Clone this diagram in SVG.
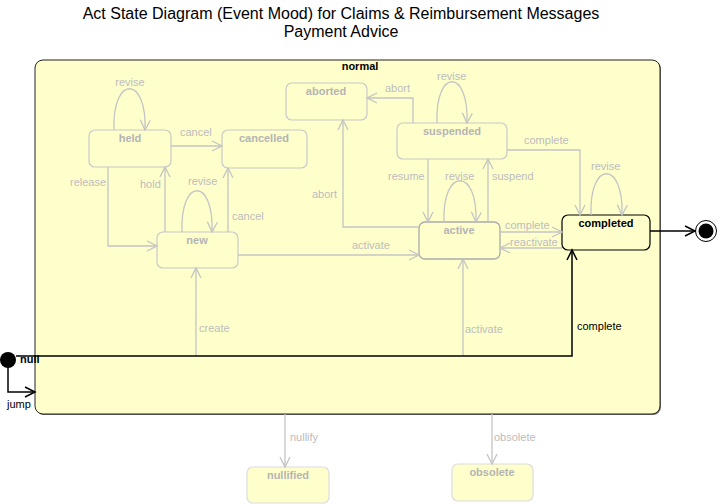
<svg xmlns="http://www.w3.org/2000/svg" width="718" height="504" viewBox="0 0 718 504">
<style>
text{font-family:"Liberation Sans",Arial,sans-serif}
.title{font-size:16px;fill:#000;text-anchor:middle}
.st{fill:#FFFFCC;stroke:#c8c8c8;stroke-width:1.2}
.stl{fill:#FFFFCC;stroke:#dcdcdc;stroke-width:1.2}
.sn{font-size:11px;font-weight:bold;fill:#b4b4b4;text-anchor:middle}
.g{fill:none;stroke:#c4c4c4;stroke-width:1.3}
.k{fill:none;stroke:#000;stroke-width:1.5}
.gl{font-size:11px;fill:#bcbcbc}
.kl{font-size:11px;fill:#000}
</style>
<defs>
<marker id="ag" markerUnits="userSpaceOnUse" markerWidth="14" markerHeight="14" refX="11" refY="6" orient="auto" viewBox="0 0 14 12">
<path d="M1,1 L11,6 L1,11" fill="none" stroke="#c4c4c4" stroke-width="1.3"/>
</marker>
<marker id="ak" markerUnits="userSpaceOnUse" markerWidth="14" markerHeight="14" refX="11" refY="6" orient="auto" viewBox="0 0 14 12">
<path d="M1,1 L11,6 L1,11" fill="none" stroke="#000" stroke-width="1.5"/>
</marker>
</defs>
<rect width="718" height="504" fill="#fff"/>
<text class="title" x="341" y="19">Act State Diagram (Event Mood) for Claims &amp; Reimbursement Messages</text>
<text class="title" x="341" y="37">Payment Advice</text>

<g id="normal">
<rect x="36" y="61" width="625" height="354" rx="8" fill="#777"/>
<rect x="35" y="60" width="625" height="354" rx="8" fill="#FFFFCC" stroke="#222" stroke-width="1"/>
<text x="360" y="70" font-size="11" font-weight="bold" text-anchor="middle">normal</text>
</g>

<g id="held"><rect class="st" x="89" y="130" width="82" height="37" rx="6"/><text class="sn" x="130" y="142">held</text></g>
<g id="cancelled"><rect class="st" x="222" y="130" width="85" height="38" rx="6"/><text class="sn" x="264" y="142">cancelled</text></g>
<g id="aborted"><rect class="st" x="286" y="83" width="81" height="37" rx="6"/><text class="sn" x="326" y="95">aborted</text></g>
<g id="suspended"><rect class="st" x="397" y="123" width="110" height="36" rx="6"/><text class="sn" x="452" y="135">suspended</text></g>
<g id="new"><rect class="st" x="157" y="232" width="81" height="36" rx="6"/><text class="sn" x="197" y="244">new</text></g>
<g id="active"><rect x="419" y="222" width="81" height="37" rx="6" fill="#FFFFCC" stroke="#aaa" stroke-width="1.3"/><text class="sn" x="459" y="234">active</text></g>
<g id="completed"><rect x="562" y="215" width="88" height="35" rx="6" fill="#FFFFCC" stroke="#000" stroke-width="1.2"/><text x="606" y="227" font-size="11" font-weight="bold" text-anchor="middle" fill="#000">completed</text></g>
<g id="nullified"><rect class="stl" x="247" y="467" width="82" height="36" rx="6"/><text class="sn" x="288" y="479" fill="#c8c8c8">nullified</text></g>
<g id="obsolete"><rect class="stl" x="452" y="464" width="81" height="37" rx="6"/><text class="sn" x="492" y="476" fill="#c8c8c8">obsolete</text></g>
<g id="null"><circle cx="8" cy="360" r="8" fill="#000"/><text x="20" y="363" font-size="11" font-weight="bold" fill="#000">null</text></g>
<g id="final"><circle cx="706" cy="231" r="10.5" fill="#fff" stroke="#000" stroke-width="1"/><circle cx="706" cy="231" r="7.5" fill="#000"/></g>

<g id="connectors">
<path class="g" d="M114,130 C112,75 147,75 145,130" marker-end="url(#ag)"/>
<text class="gl" x="130" y="86" text-anchor="middle">revise</text>
<path class="g" d="M171,146 L222,146" marker-end="url(#ag)"/>
<text class="gl" x="180" y="136">cancel</text>
<path class="g" d="M108,167 L108,246 L157,246" marker-end="url(#ag)"/>
<text class="gl" x="70" y="186">release</text>
<path class="g" d="M165,232 L165,167" marker-end="url(#ag)"/>
<text class="gl" x="140" y="188">hold</text>
<path class="g" d="M182,232 C180,177 214,177 212,232" marker-end="url(#ag)"/>
<text class="gl" x="188" y="185">revise</text>
<path class="g" d="M228,232 L228,168" marker-end="url(#ag)"/>
<text class="gl" x="232" y="220">cancel</text>
<path class="g" d="M238,255 L419,255" marker-end="url(#ag)"/>
<text class="gl" x="352" y="249">activate</text>
<path class="g" d="M196,356 L196,268" marker-end="url(#ag)"/>
<text class="gl" x="199" y="332">create</text>
<path class="g" d="M463,356 L463,259" marker-end="url(#ag)"/>
<text class="gl" x="465" y="333">activate</text>
<path class="g" d="M419,227 L343,227 L343,120" marker-end="url(#ag)"/>
<text class="gl" x="312" y="198">abort</text>
<path class="g" d="M413,123 L413,98 L367,98" marker-end="url(#ag)"/>
<text class="gl" x="385" y="92">abort</text>
<path class="g" d="M437,123 C435,68 469,68 467,123" marker-end="url(#ag)"/>
<text class="gl" x="437" y="80">revise</text>
<path class="g" d="M428,159 L428,222" marker-end="url(#ag)"/>
<text class="gl" x="388" y="180">resume</text>
<path class="g" d="M444,222 C442,167 478,167 476,222" marker-end="url(#ag)" stroke-width="1.6" stroke="#b4b4b4"/>
<text class="gl" x="445" y="180">revise</text>
<path class="g" d="M488,222 L488,159" marker-end="url(#ag)"/>
<text class="gl" x="492" y="180">suspend</text>
<path class="g" d="M507,150 L580,150 L580,215" marker-end="url(#ag)"/>
<text class="gl" x="524" y="144">complete</text>
<path class="g" d="M591,215 C589,160 624,160 622,215" marker-end="url(#ag)"/>
<text class="gl" x="591" y="170">revise</text>
<path class="g" d="M500,232 L562,232" marker-end="url(#ag)" stroke-width="1.8"/>
<text class="gl" x="505" y="229">complete</text>
<path class="g" d="M562,248 L500,248" marker-end="url(#ag)"/>
<text class="gl" x="510" y="246">reactivate</text>
<path class="g" d="M285,414 L285,467" marker-end="url(#ag)" stroke="#c8c8c8"/>
<text class="gl" x="290" y="441">nullify</text>
<path class="g" d="M492,414 L492,464" marker-end="url(#ag)" stroke="#c8c8c8"/>
<text class="gl" x="494" y="441">obsolete</text>
<path class="k" d="M16,356 L572,356 L572,250" marker-end="url(#ak)"/>
<text class="kl" x="577" y="330">complete</text>
<path class="k" d="M8,368 L8,392 L35,392" marker-end="url(#ak)" stroke-width="1.3"/>
<text class="kl" x="7" y="408">jump</text>
<path class="k" d="M650,231 L695,231" marker-end="url(#ak)"/>
</g>
</svg>
